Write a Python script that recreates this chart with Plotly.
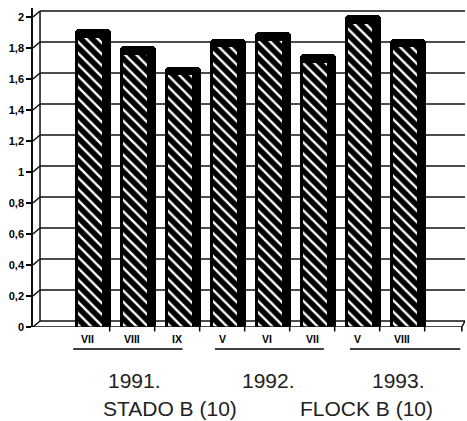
import plotly.graph_objects as go

# Sampling months, grouped by year
months = ["VII", "VIII", "IX", "V", "VI", "VII", "V", "VIII"]
values = [1.92, 1.81, 1.68, 1.86, 1.90, 1.76, 2.01, 1.86]
years = ["1991.", "1992.", "1993."]
subtitles = ["STADO B (10)", "FLOCK B (10)"]
y_ticks = [0, 0.2, 0.4, 0.6, 0.8, 1, 1.2, 1.4, 1.6, 1.8, 2]
y_ticktext = ["0", "0,2", "0,4", "0,6", "0,8", "1", "1,2", "1,4", "1,6", "1,8", "2"]

FONT = "Liberation Sans"
x = list(range(len(months)))
X0, X1 = -1.344, 8.256       # x range
Y1 = 2.058                   # y range top
DX, DY = 0.156, 0.039        # depth offset of the back wall

fig = go.Figure()

# dark body of each column (top and side faces)
fig.add_trace(go.Bar(
    x=x, y=values, width=0.8, offset=-0.4,
    marker=dict(color="black", line=dict(width=0), cornerradius=4),
    hoverinfo="skip", showlegend=False,
))
# hatched front face, starting just below the top face
inset = 0.055
fig.add_trace(go.Bar(
    x=x, y=[v - inset for v in values], width=0.54, offset=-0.35,
    marker=dict(
        color="black",
        line=dict(width=0),
        pattern=dict(shape="\\", fillmode="replace", bgcolor="black",
                     fgcolor="white", size=8, solidity=0.3),
    ),
    hoverinfo="skip", showlegend=False,
))

shapes = []
line_style = dict(color="#111", width=1.5)
# back-wall gridlines and left-wall connectors
for v in y_ticks:
    shapes.append(dict(type="line", xref="x", yref="y", x0=X0 + DX, x1=X1,
                       y0=v + DY, y1=v + DY, line=line_style, layer="below"))
    shapes.append(dict(type="line", xref="x", yref="y", x0=X0, x1=X0 + DX,
                       y0=v, y1=v + DY, line=line_style, layer="below"))
# back wall corner
shapes.append(dict(type="line", xref="x", yref="y", x0=X0 + DX, x1=X0 + DX,
                   y0=DY, y1=2 + DY, line=line_style, layer="below"))
# floor: front edge
shapes.append(dict(type="line", xref="x", yref="y", x0=X0, x1=X1 - 0.07,
                   y0=0, y1=0, line=line_style))
shapes.append(dict(type="line", xref="x", yref="y", x0=X1 - 0.07, x1=X1,
                   y0=0, y1=DY, line=line_style))
# small marks between columns on the floor edge
for i in x:
    shapes.append(dict(type="line", xref="x", yref="paper", x0=i + 0.36, x1=i + 0.36,
                       y0=0, y1=-0.014, line=dict(color="black", width=1.5)))
shapes.append(dict(type="line", xref="x", yref="paper", x0=X1 - 0.07, x1=X1 - 0.07,
                   y0=0, y1=-0.014, line=dict(color="black", width=1.5)))

# underlines grouping months by year
spans = [(-0.45, 1.98), (2.7, 5.12), (5.7, 8.15)]
for a, b in spans:
    shapes.append(dict(type="line", xref="x", yref="paper", x0=a, x1=b,
                       y0=-0.069, y1=-0.069, line=dict(color="black", width=1.6)))

annotations = []
for i, m in enumerate(months):
    annotations.append(dict(x=i - 0.14, y=-0.037, xref="x", yref="paper", text=m,
                            showarrow=False, yanchor="middle",
                            font=dict(family=FONT, size=10.5, color="black", weight="bold")))
for xp, t in zip([0.92, 3.88, 6.77], years):
    annotations.append(dict(x=xp, y=-0.168, xref="x", yref="paper", text=t,
                            showarrow=False, yanchor="middle",
                            font=dict(family=FONT, size=21, color="#222")))
for xp, t in zip([1.69, 6.06], subtitles):
    annotations.append(dict(x=xp, y=-0.256, xref="x", yref="paper", text=t,
                            showarrow=False, yanchor="middle",
                            font=dict(family=FONT, size=21, color="#222")))

fig.update_layout(
    width=467, height=421,
    margin=dict(l=33, r=2, t=8, b=94),
    paper_bgcolor="white", plot_bgcolor="white",
    barmode="overlay", bargap=0,
    shapes=shapes, annotations=annotations,
    xaxis=dict(range=[X0, X1], showgrid=False, zeroline=False, showline=False,
               showticklabels=False, ticks=""),
    yaxis=dict(range=[0, Y1], tickvals=y_ticks, ticktext=y_ticktext,
               showgrid=False, zeroline=False, showline=True, linecolor="#111",
               linewidth=1.6, ticks="outside", ticklen=5, tickwidth=1.6,
               tickcolor="black",
               tickfont=dict(family=FONT, size=11, color="black", weight="bold")),
)

fig.write_html("out.html")
